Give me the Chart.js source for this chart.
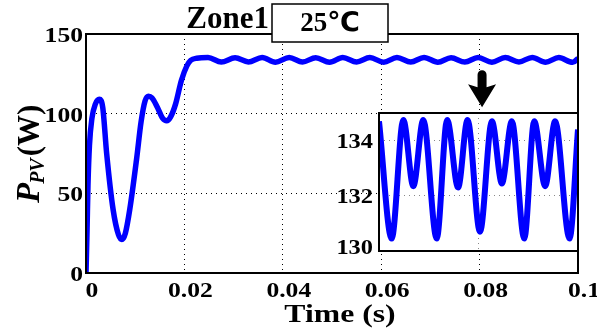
<!DOCTYPE html>
<html>
<head>
<meta charset="utf-8">
<script src="https://cdn.jsdelivr.net/npm/chart.js@4.4.0/dist/chart.umd.min.js"></script>
<style>
  html, body { margin: 0; padding: 0; background: #fff; }
  #wrap { position: relative; width: 597px; height: 331px; overflow: hidden; }
  #mainChart { position: absolute; left: 0; top: 0; }
  #insetChart { position: absolute; left: 325px; top: 105px; }
</style>
</head>
<body>
<div id="wrap">
  <canvas id="mainChart" width="597" height="331"></canvas>
  <canvas id="insetChart" width="260" height="160"></canvas>
</div>
<script>
// main trace (time in s, power in W)
const timeData = [0, 0.0002, 0.0004, 0.0007, 0.0012, 0.0019, 0.0027, 0.0034, 0.0042, 0.0055,
  0.0066, 0.0073, 0.0080, 0.0089, 0.0103, 0.0112, 0.0120, 0.0127, 0.0134, 0.0145,
  0.0156, 0.0164, 0.0172, 0.0182, 0.0194, 0.0205, 0.0213, 0.0225,
  0.0248, 0.0275, 0.0303, 0.0330, 0.0358, 0.0385, 0.0413, 0.0440, 0.0467, 0.0495,
  0.0522, 0.0550, 0.0577, 0.0605, 0.0632, 0.0660, 0.0687, 0.0715, 0.0742, 0.0770,
  0.0797, 0.0825, 0.0852, 0.0880, 0.0907, 0.0934, 0.0961, 0.0989, 0.1];
const powerData = [0, 25, 55, 80, 97, 106, 109, 104, 75, 40,
  24, 21, 25, 40, 72, 95, 108, 111, 110, 104,
  97, 95.5, 98, 106, 121, 130, 133.5, 134.8,
  135.2, 132.4, 135.1, 132.5, 135.3, 132.3, 135.2, 132.4, 135.1, 132.3,
  135.3, 132.5, 135.2, 132.3, 135.2, 132.4, 135.3, 132.3, 135.1, 132.4,
  135.2, 132.3, 135.2, 132.5, 135.3, 132.3, 135.2, 132.2, 134.6];

// zoomed inset trace
const insetTime = [0.06, 0.06255, 0.06489, 0.0669, 0.0689, 0.0716, 0.0737, 0.0759, 0.0778, 0.0803,
  0.0827, 0.0847, 0.0867, 0.0892, 0.0912, 0.0934, 0.0954, 0.0983, 0.1];
const insetPower = [134.7, 130.45, 134.75, 132.35, 134.75, 130.45, 134.75, 132.3, 134.75, 130.7,
  134.7, 132.45, 134.7, 130.45, 134.7, 132.35, 134.7, 130.45, 134.4];

// ticks
const xTicks = [0, 0.02, 0.04, 0.06, 0.08, 0.1];
const xTickLabels = ['0', '0.02', '0.04', '0.06', '0.08', '0.1'];
const yTicks = [0, 50, 100, 150];
const yTickLabels = ['0', '50', '100', '150'];
const insetYTicks = [130, 132, 134];
const insetYTickLabels = ['130', '132', '134'];

// arrow annotation (data units)
const arrowX = 0.0805;
const arrowTop = 127;
const arrowTip = 104;

const SERIF = '"Liberation Serif", "Times New Roman", serif';
const BLUE = '#0000ff';
const STRETCH = 1.22; // the original lettering is drawn a bit wide

function toPoints(xs, ys) {
  return xs.map((v, i) => ({ x: v, y: ys[i] }));
}

// text widened horizontally, anchored per ctx.textAlign
function wideText(ctx, text, x, y) {
  ctx.save();
  ctx.translate(x, y);
  ctx.scale(STRETCH, 1);
  ctx.fillText(text, 0, 0);
  ctx.restore();
}

const mainDecor = {
  id: 'mainDecor',
  afterDraw(chart) {
    const { ctx, chartArea: a, scales: { x, y } } = chart;
    ctx.save();
    ctx.strokeStyle = '#000';
    ctx.lineWidth = 2;
    ctx.strokeRect(a.left, a.top, a.right - a.left, a.bottom - a.top);

    ctx.fillStyle = '#000';
    ctx.font = 'bold 21px ' + SERIF;
    ctx.textBaseline = 'alphabetic';
    ctx.textAlign = 'center';
    xTicks.forEach((v, i) => wideText(ctx, xTickLabels[i], x.getPixelForValue(v) + 6, a.bottom + 24));
    ctx.textAlign = 'right';
    yTicks.forEach((v, i) => wideText(ctx, yTickLabels[i], a.left - 3, y.getPixelForValue(v) + 8));

    // x title
    ctx.textAlign = 'center';
    ctx.font = 'bold 26px ' + SERIF;
    wideText(ctx, 'Time (s)', 340, 322);

    // y title: P_PV (W)
    ctx.save();
    ctx.translate(39, 203);
    ctx.rotate(-Math.PI / 2);
    ctx.textAlign = 'left';
    ctx.font = 'italic bold 33px ' + SERIF;
    ctx.fillText('P', 0, 0);
    let w = ctx.measureText('P').width;
    ctx.font = 'italic bold 20px ' + SERIF;
    ctx.fillText('PV', w - 1, 5);
    w += ctx.measureText('PV').width + 1;
    ctx.font = 'bold 31px ' + SERIF;
    ctx.fillText('(W)', w, 0);
    ctx.restore();

    // title: Zone1 + boxed temperature
    const boxL = a.left + 186, boxT = a.top - 30, boxW = 116, boxH = 38;
    ctx.fillStyle = '#fff';
    ctx.fillRect(boxL, boxT, boxW, boxH);
    ctx.lineWidth = 1.5;
    ctx.strokeRect(boxL, boxT, boxW, boxH);
    ctx.fillStyle = '#000';
    ctx.font = 'bold 31px ' + SERIF;
    ctx.textAlign = 'right';
    ctx.fillText('Zone1', boxL - 3, a.top - 6);
    ctx.textAlign = 'center';
    ctx.font = 'bold 27px ' + SERIF + ', "DejaVu Sans"';
    ctx.fillText('25\u2103', boxL + boxW / 2, boxT + 27);

    // arrow
    const ax = x.getPixelForValue(arrowX);
    const at = y.getPixelForValue(arrowTop);
    const tip = y.getPixelForValue(arrowTip);
    ctx.beginPath();
    ctx.moveTo(ax - 4.5, tip - 20);
    ctx.lineTo(ax - 4.5, at + 4);
    ctx.arc(ax, at + 4, 4.5, Math.PI, 0);
    ctx.lineTo(ax + 4.5, tip - 20);
    ctx.lineTo(ax + 14, tip - 23);
    ctx.lineTo(ax, tip);
    ctx.lineTo(ax - 14, tip - 23);
    ctx.closePath();
    ctx.fill();
    ctx.restore();
  }
};

const insetDecor = {
  id: 'insetDecor',
  beforeDraw(chart) {
    const { ctx, chartArea: a } = chart;
    ctx.save();
    ctx.fillStyle = '#fff';
    ctx.fillRect(a.left, a.top, a.right - a.left, a.bottom - a.top);
    ctx.restore();
  },
  afterDraw(chart) {
    const { ctx, chartArea: a, scales: { x, y } } = chart;
    ctx.save();
    ctx.strokeStyle = '#000';
    ctx.lineWidth = 2;
    ctx.strokeRect(a.left, a.top, a.right - a.left, a.bottom - a.top);
    ctx.fillStyle = '#000';
    ctx.font = 'bold 20px ' + SERIF;
    ctx.textAlign = 'right';
    insetYTicks.forEach((v, i) => {
      const py = Math.min(y.getPixelForValue(v), a.bottom - 4);
      wideText(ctx, insetYTickLabels[i], a.left - 6, py + 7);
    });
    ctx.restore();
  }
};

const zeroHeight = s => { s.height = 0; };
const zeroWidth = s => { s.width = 0; };

new Chart(document.getElementById('mainChart').getContext('2d'), {
  type: 'line',
  data: {
    datasets: [{
      data: toPoints(timeData, powerData),
      borderColor: BLUE,
      borderWidth: 5.5,
      pointRadius: 0,
      cubicInterpolationMode: 'monotone',
      fill: false
    }]
  },
  options: {
    responsive: false,
    animation: false,
    devicePixelRatio: 1,
    layout: { padding: { left: 86, top: 34, right: 19, bottom: 58 } },
    plugins: { legend: { display: false }, tooltip: { enabled: false } },
    scales: {
      x: {
        type: 'linear', min: 0, max: 0.1,
        afterBuildTicks: s => { s.ticks = xTicks.map(v => ({ value: v })); },
        afterFit: zeroHeight,
        ticks: { display: false },
        grid: { color: '#000', lineWidth: 1, drawTicks: false },
        border: { display: false, dash: [1, 4] }
      },
      y: {
        min: 0, max: 150,
        afterBuildTicks: s => { s.ticks = yTicks.map(v => ({ value: v })); },
        afterFit: zeroWidth,
        ticks: { display: false },
        grid: { color: '#000', lineWidth: 1, drawTicks: false },
        border: { display: false, dash: [1, 4] }
      }
    }
  },
  plugins: [mainDecor]
});

new Chart(document.getElementById('insetChart').getContext('2d'), {
  type: 'line',
  data: {
    datasets: [{
      data: toPoints(insetTime, insetPower),
      borderColor: BLUE,
      borderWidth: 6,
      pointRadius: 0,
      cubicInterpolationMode: 'monotone',
      fill: false
    }]
  },
  options: {
    responsive: false,
    animation: false,
    devicePixelRatio: 1,
    layout: { padding: { left: 54, top: 8, right: 7, bottom: 14 } },
    plugins: { legend: { display: false }, tooltip: { enabled: false } },
    scales: {
      x: {
        type: 'linear', min: 0.06, max: 0.1,
        afterBuildTicks: s => { s.ticks = [{ value: 0.08 }]; },
        afterFit: zeroHeight,
        ticks: { display: false },
        grid: { color: '#888', lineWidth: 1, drawTicks: false },
        border: { display: false, dash: [1, 4] }
      },
      y: {
        min: 130, max: 135,
        afterBuildTicks: s => { s.ticks = [{ value: 132 }, { value: 134 }]; },
        afterFit: zeroWidth,
        ticks: { display: false },
        grid: { color: '#888', lineWidth: 1, drawTicks: false },
        border: { display: false, dash: [1, 4] }
      }
    }
  },
  plugins: [insetDecor]
});
</script>
</body>
</html>
